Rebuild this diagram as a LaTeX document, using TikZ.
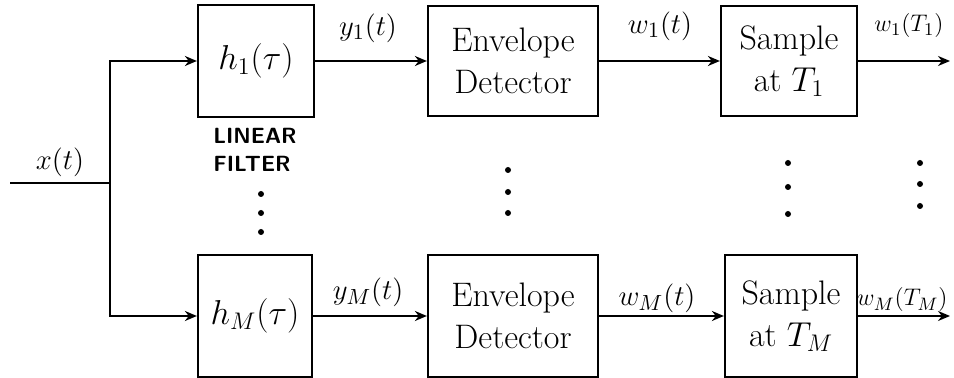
\documentclass[tikz,border=0pt]{standalone}
\usepackage{fontspec}
\usetikzlibrary{arrows.meta}
\begin{document}
\begin{tikzpicture}[x=0.5pt,y=-0.5pt,
  blk/.style={draw,line width=1.1pt,inner sep=0pt,align=center,font=\fontsize{17}{21}\selectfont},
  arr/.style={line width=1.1pt,-{Stealth[length=6pt,width=5pt]}},
  wire/.style={line width=1.1pt},
  lbl/.style={font=\fontsize{15}{18}\selectfont,inner sep=0pt},
  olbl/.style={font=\fontsize{13}{16}\selectfont,inner sep=0pt,anchor=east},
  dot/.style={circle,fill,inner sep=0pt,minimum size=3pt}]
\useasboundingbox (0,0) rectangle (954,378);
% blocks
\node[blk,minimum width=58pt,minimum height=56pt] (h1) at (256,61) {$h_1(\tau)$};
\node[blk,minimum width=57pt,minimum height=61pt] (hM) at (255,316) {$h_M(\tau)$};
\node[blk,minimum width=85pt,minimum height=55pt] (e1) at (513,61) {Envelope\\Detector};
\node[blk,minimum width=85pt,minimum height=61pt] (eM) at (513,316) {Envelope\\Detector};
\node[blk,minimum width=68pt,minimum height=55pt] (s1) at (789,61) {Sample\\at $T_1$};
\node[blk,minimum width=66pt,minimum height=61pt] (sM) at (791,316) {Sample\\at $T_M$};
% input
\coordinate (in) at (10,183);
\coordinate (sp) at (110,183);
\coordinate (o1) at (950,61);
\coordinate (oM) at (950,316);
\draw[wire] (in) -- (sp);
\draw[arr] (sp) |- (h1.west);
\draw[arr] (sp) |- (hM.west);
\draw[arr] (h1) -- (e1);
\draw[arr] (e1) -- (s1);
\draw[arr] (s1) -- (o1);
\draw[arr] (hM) -- (eM);
\draw[arr] (eM) -- (sM);
\draw[arr] (sM) -- (oM);
% labels
\node[lbl] (lx) at (60,162) {$x(t)$};
\node[lbl] (ly1) at (368,28) {$y_1(t)$};
\node[lbl] (lw1) at (660,26) {$w_1(t)$};
\node[olbl] (lo1) at (944,26) {$w_1(T_1)$};
\node[lbl] (lyM) at (368,292) {$y_M(t)$};
\node[lbl] (lwM) at (657,298) {$w_M(t)$};
\node[olbl] (loM) at (948,300) {$w_M(T_M)$};
\node[font=\sffamily\bfseries\fontsize{11}{14}\selectfont,align=left,inner sep=0pt] (lf) at (255,150) {LINEAR\\FILTER};
% dots
\foreach \x/\a/\b/\c in {261/194/213/232, 508/170/192/213, 788/163/187/214, 920/163/184/206}{
  \node[dot] at (\x,\a) {};
  \node[dot] at (\x,\b) {};
  \node[dot] at (\x,\c) {};
}
\end{tikzpicture}
\end{document}
